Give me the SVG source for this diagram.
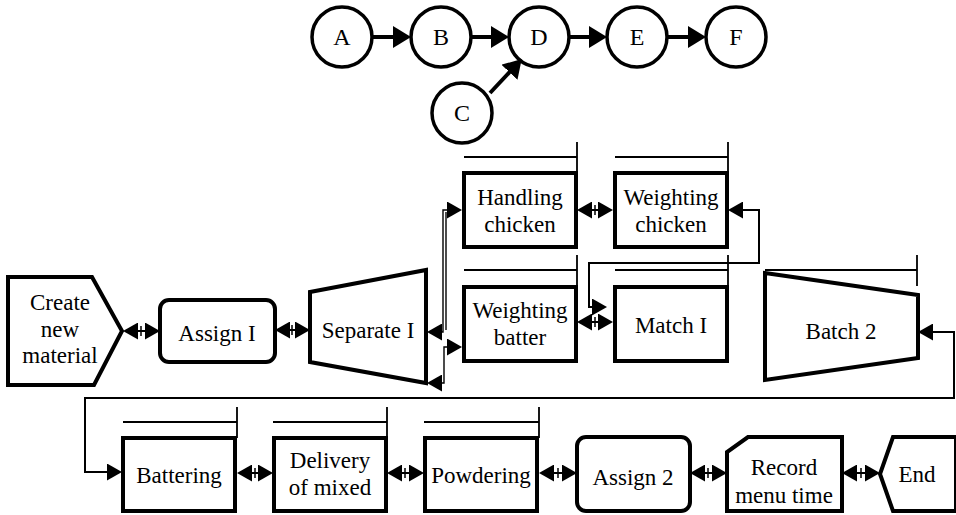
<svg xmlns="http://www.w3.org/2000/svg" width="956" height="515" viewBox="0 0 956 515">
  <style>
    .node { fill: #fff; stroke: #000; stroke-width: 4; stroke-linejoin: miter; }
    .circ { fill: #fff; stroke: #000; stroke-width: 3.5; }
    text { font-family: 'Liberation Serif', 'DejaVu Serif', serif; fill: #000; text-anchor: middle; }
    .lbl { font-size: 23px; }
    .clbl { font-size: 24px; }
    .bar { fill: none; stroke: #000; stroke-width: 1.8; }
    .thick { fill: none; stroke: #000; stroke-width: 4; }
    .link { fill: none; stroke: #000; stroke-width: 2; }
    .tick { fill: none; stroke: #000; stroke-width: 1.5; }
  </style>
  <defs>
    <marker id="big" viewBox="0 0 18 22" refX="14" refY="11" markerWidth="18" markerHeight="22" markerUnits="userSpaceOnUse" orient="auto-start-reverse">
      <path d="M0,0 L18,11 L0,22 Z" fill="#000"/>
    </marker>
    <marker id="head" viewBox="0 0 15 17" refX="13" refY="8.5" markerWidth="15" markerHeight="17" markerUnits="userSpaceOnUse" orient="auto-start-reverse">
      <path d="M0,0 L15,8.5 L0,17 Z" fill="#000"/>
    </marker>
  </defs>

  <!-- precedence graph -->
  <g font-family="Liberation Serif, serif">
  <g id="circle-A"><circle class="circ" cx="342" cy="37" r="30"/><text class="clbl" x="342" y="45">A</text></g>
  <g id="circle-B"><circle class="circ" cx="441" cy="37" r="30"/><text class="clbl" x="441" y="45">B</text></g>
  <g id="circle-D"><circle class="circ" cx="539" cy="37" r="30"/><text class="clbl" x="539" y="45">D</text></g>
  <g id="circle-E"><circle class="circ" cx="637" cy="37" r="30"/><text class="clbl" x="637" y="45">E</text></g>
  <g id="circle-F"><circle class="circ" cx="736" cy="37" r="30"/><text class="clbl" x="736" y="45">F</text></g>
  <g id="circle-C"><circle class="circ" cx="462" cy="113" r="30"/><text class="clbl" x="462" y="121">C</text></g>

  <!-- process nodes -->
  <g id="create-new-material">
    <polygon class="node" points="8,277 92,277 122,331 94,385 8,385"/>
    <text class="lbl" x="60" y="310">Create</text>
    <text class="lbl" x="60" y="337">new</text>
    <text class="lbl" x="60" y="363">material</text>
  </g>
  <g id="assign-1">
    <rect class="node" x="160" y="300" width="115" height="62" rx="9"/>
    <text class="lbl" x="217" y="341">Assign I</text>
  </g>
  <g id="separate-1">
    <polygon class="node" points="310,292 426,270 426,383 310,362"/>
    <text class="lbl" x="368" y="338">Separate I</text>
  </g>
  <g id="handling-chicken">
    <path class="bar" d="M464 157 H577 M577 142 V173"/>
    <rect class="node" x="464" y="173" width="112" height="74"/>
    <text class="lbl" x="520" y="205">Handling</text>
    <text class="lbl" x="520" y="232">chicken</text>
  </g>
  <g id="weighting-chicken">
    <path class="bar" d="M615 157 H728 M728 142 V173"/>
    <rect class="node" x="615" y="173" width="112" height="74"/>
    <text class="lbl" x="671" y="205">Weighting</text>
    <text class="lbl" x="671" y="232">chicken</text>
  </g>
  <g id="weighting-batter">
    <path class="bar" d="M464 270 H577 M577 255 V287"/>
    <rect class="node" x="464" y="287" width="112" height="74"/>
    <text class="lbl" x="520" y="318">Weighting</text>
    <text class="lbl" x="520" y="345">batter</text>
  </g>
  <g id="match-1">
    <path class="bar" d="M615 270 H728 M728 255 V287"/>
    <rect class="node" x="615" y="287" width="112" height="74"/>
    <text class="lbl" x="671" y="333">Match I</text>
  </g>
  <g id="batch-2">
    <path class="bar" d="M765 270 H917 M917 255 V286"/>
    <polygon class="node" points="765,273 918,295 918,358 765,380"/>
    <text class="lbl" x="841" y="339">Batch 2</text>
  </g>
  <g id="battering">
    <path class="bar" d="M123 422 H237 M237 407 V438"/>
    <rect class="node" x="123" y="438" width="112" height="73"/>
    <text class="lbl" x="179" y="483">Battering</text>
  </g>
  <g id="delivery-of-mixed">
    <path class="bar" d="M273 422 H387 M387 407 V438"/>
    <rect class="node" x="274" y="438" width="112" height="73"/>
    <text class="lbl" x="330" y="468">Delivery</text>
    <text class="lbl" x="330" y="495">of mixed</text>
  </g>
  <g id="powdering">
    <path class="bar" d="M424 422 H539 M539 407 V438"/>
    <rect class="node" x="425" y="438" width="112" height="73"/>
    <text class="lbl" x="481" y="483">Powdering</text>
  </g>
  <g id="assign-2">
    <rect class="node" x="577" y="437" width="113" height="74" rx="9"/>
    <text class="lbl" x="633" y="485">Assign 2</text>
  </g>
  <g id="record-menu-time">
    <polygon class="node" points="748,437 842,437 842,511 727,511 727,452"/>
    <text class="lbl" x="784" y="475">Record</text>
    <text class="lbl" x="784" y="503">menu time</text>
  </g>
  <g id="end">
    <polygon class="node" points="893,437 956,437 956,511 893,511 880,474"/>
    <text class="lbl" x="917" y="482">End</text>
  </g>
  </g>

  <!-- connectors -->
  <g id="connectors">
    <!-- precedence arrows -->
    <path class="thick" d="M372 37 H407" marker-end="url(#big)"/>
    <path class="thick" d="M471 37 H505" marker-end="url(#big)"/>
    <path class="thick" d="M569 37 H603" marker-end="url(#big)"/>
    <path class="thick" d="M667 37 H702" marker-end="url(#big)"/>
    <path class="thick" d="M490 93 L519 62" marker-end="url(#big)"/>

    <!-- two-way links between neighbouring steps -->
    <path class="link" d="M125 331 H158" marker-start="url(#head)" marker-end="url(#head)"/>
    <path class="tick" d="M141 326 V336"/>
    <path class="link" d="M277 330 H308" marker-start="url(#head)" marker-end="url(#head)"/>
    <path class="tick" d="M292 325 V335"/>
    <path class="link" d="M579 210 H611" marker-start="url(#head)" marker-end="url(#head)"/>
    <path class="tick" d="M595 205 V215"/>
    <path class="link" d="M579 322 H611" marker-start="url(#head)" marker-end="url(#head)"/>
    <path class="tick" d="M595 317 V327"/>
    <path class="link" d="M239 473 H271" marker-start="url(#head)" marker-end="url(#head)"/>
    <path class="tick" d="M255 468 V478"/>
    <path class="link" d="M389 473 H422" marker-start="url(#head)" marker-end="url(#head)"/>
    <path class="tick" d="M405 468 V478"/>
    <path class="link" d="M541 473 H575" marker-start="url(#head)" marker-end="url(#head)"/>
    <path class="tick" d="M558 468 V478"/>
    <path class="link" d="M692 473 H725" marker-start="url(#head)" marker-end="url(#head)"/>
    <path class="tick" d="M708 468 V478"/>
    <path class="link" d="M844 473 H878" marker-start="url(#head)" marker-end="url(#head)"/>
    <path class="tick" d="M861 468 V478"/>

    <!-- separator branches -->
    <path class="link" style="stroke-width:1.4" d="M429 332 H443 V210 H460" marker-start="url(#head)" marker-end="url(#head)"/>
    <path class="link" style="stroke-width:1.4" d="M446 212 V330"/>
    <path class="link" style="stroke-width:1.4" d="M429 383 H444 V347 H460" marker-start="url(#head)" marker-end="url(#head)"/>

    <!-- weighting chicken to match loop -->
    <path class="link" d="M730 210 H759 V263 H589 V307 H605" marker-start="url(#head)" marker-end="url(#head)"/>

    <!-- batch to battering loop -->
    <path class="link" d="M920 332 H954 V398 H85 V472 H120" marker-start="url(#head)" marker-end="url(#head)"/>
  </g>
</svg>
